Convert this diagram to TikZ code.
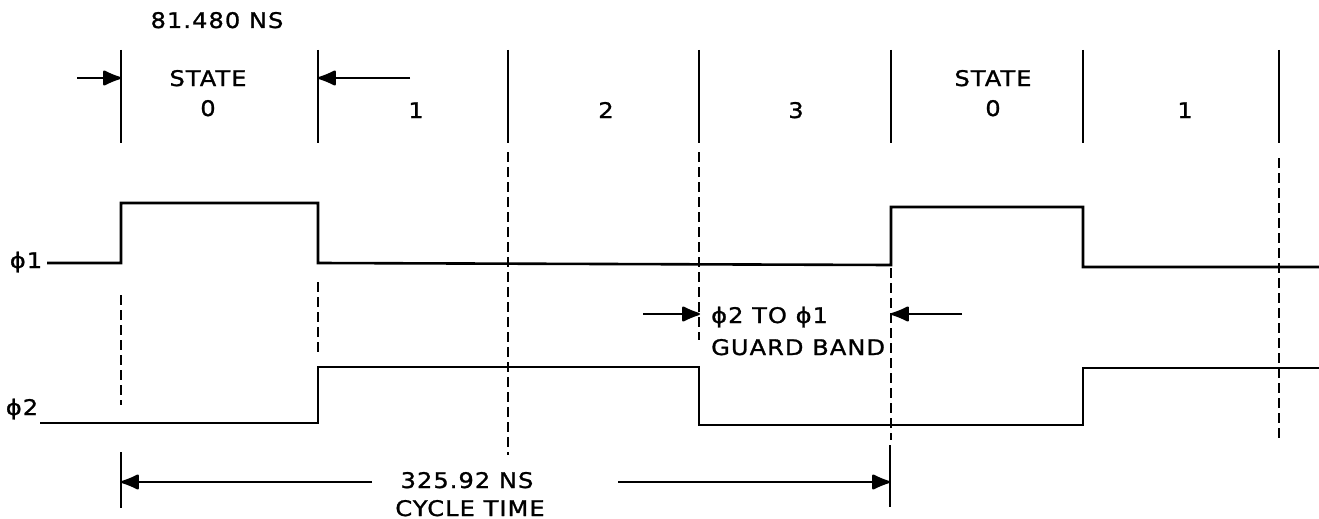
\documentclass[tikz,border=0pt]{standalone}
\usepackage{fontspec}
\newfontfamily\plotfont[FakeStretch=1.12,FakeBold=1.2,LetterSpace=5]{DejaVu Sans}
\usetikzlibrary{arrows.meta}

\begin{document}
\begin{tikzpicture}[x=1pt, y=-1pt,
  lbl/.style={font=\plotfont\fontsize{21.5}{24}\selectfont, inner sep=0pt, anchor=base},
  signal/.style={line width=2.6pt, line join=miter},
  tick/.style={line width=2.6pt},
  guide/.style={line width=2.4pt, dash pattern=on 10pt off 5pt},
  dim/.style={-{Latex[round,length=21pt,width=17pt]}, line width=2.2pt}
]
\useasboundingbox (0,0) rectangle (1319,519);
\node[lbl] (period) at (217,28) {81.480 NS};
\node[lbl] (stateA) at (208,86) {STATE};
\node[lbl] (zeroA) at (208,116) {0};
\node[lbl] (oneA) at (416,118) {1};
\node[lbl] (two) at (606,118) {2};
\node[lbl] (three) at (796,118) {3};
\node[lbl] (stateB) at (993,86) {STATE};
\node[lbl] (zeroB) at (993,116) {0};
\node[lbl] (oneB) at (1185,118) {1};
\node[lbl] (phione) at (26,268) {ϕ1};
\node[lbl] (phitwo) at (22,415) {ϕ2};
\node[lbl, anchor=base west] (guardA) at (711,323) {ϕ2 TO ϕ1};
\node[lbl, anchor=base west] (guardB) at (711,355) {GUARD BAND};
\node[lbl] (cycA) at (467,488) {325.92 NS};
\node[lbl] (cycB) at (470,516) {CYCLE TIME};
\draw[tick] (121,50) -- (121,143);
\draw[tick] (318,50) -- (318,143);
\draw[tick] (508,50) -- (508,143);
\draw[tick] (699,50) -- (699,143);
\draw[tick] (891,50) -- (891,143);
\draw[tick] (1083,50) -- (1083,143);
\draw[tick] (1279,50) -- (1279,143);
\draw[guide] (121,295) -- (121,405);
\draw[guide] (318,282) -- (318,354);
\draw[guide] (508,152) -- (508,455);
\draw[guide] (699,152) -- (699,340);
\draw[guide] (891,268) -- (891,440);
\draw[guide] (1279,158) -- (1279,440);
\draw[signal] (47,263) -- (121,263) -- (121,203) -- (318,203) -- (318,263)
  -- (891,265) -- (891,207) -- (1083,207) -- (1083,267) -- (1319,267);
\draw[signal] (40,423) -- (318,423) -- (318,367) -- (699,367) -- (699,425)
  -- (1083,425) -- (1083,368) -- (1319,368);
\coordinate (sA) at (121,78);
\coordinate (sAtail) at (77,78);
\coordinate (sB) at (318,78);
\coordinate (sBtail) at (410,78);
\draw[dim] (sAtail) -- (sA);
\draw[dim] (sBtail) -- (sB);
\coordinate (gA) at (700,314);
\coordinate (gAtail) at (643,314);
\coordinate (gB) at (891,314);
\coordinate (gBtail) at (962,314);
\draw[dim] (gAtail) -- (gA);
\draw[dim] (gBtail) -- (gB);
\draw[tick] (121,452) -- (121,508);
\draw[tick] (890,445) -- (890,507);
\coordinate (cA) at (121,482);
\coordinate (cAtail) at (372,482);
\coordinate (cB) at (890,482);
\coordinate (cBtail) at (618,482);
\draw[dim] (cAtail) -- (cA);
\draw[dim] (cBtail) -- (cB);
\end{tikzpicture}
\end{document}
